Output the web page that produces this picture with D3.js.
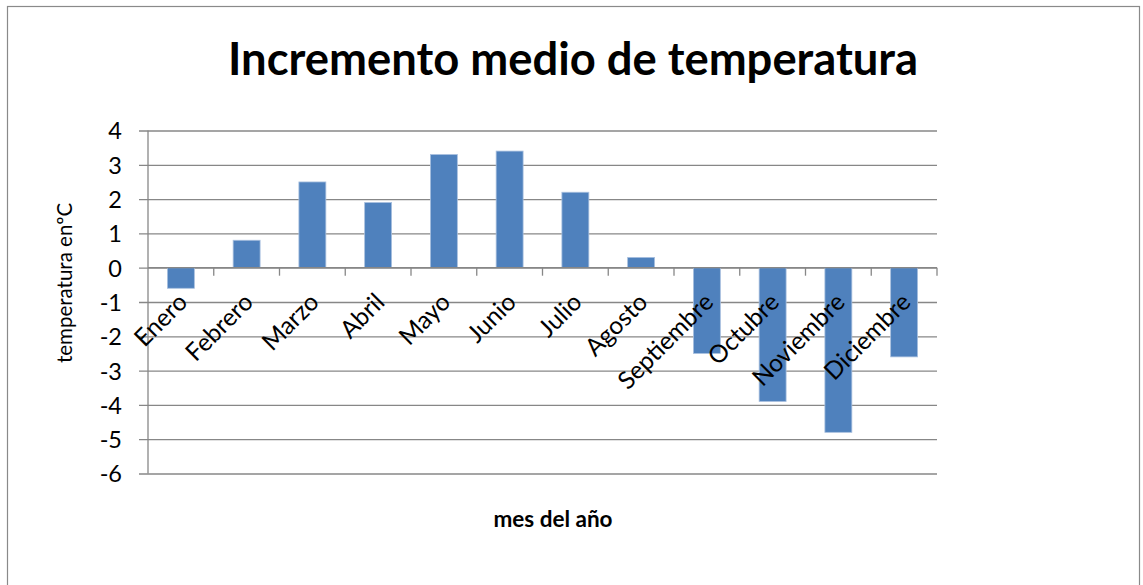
<!DOCTYPE html>
<html>
<head>
<meta charset="utf-8">
<script src="https://cdn.jsdelivr.net/npm/d3@7"></script>
<style>
  body { margin: 0; background: #fff; }
  svg { display: block; }
  text { font-family: Lato, "Open Sans", sans-serif; fill: #000; }
</style>
</head>
<body>
<svg id="chart" width="1143" height="585"></svg>
<script>
// data
const months = ["Enero", "Febrero", "Marzo", "Abril", "Mayo", "Junio",
                "Julio", "Agosto", "Septiembre", "Octubre", "Noviembre", "Diciembre"];
const increments = [-0.6, 0.8, 2.5, 1.9, 3.3, 3.4, 2.2, 0.3, -2.5, -3.9, -4.8, -2.6];
const tempTicks = [-6, -5, -4, -3, -2, -1, 0, 1, 2, 3, 4];
const chartTitle = "Incremento medio de temperatura";
const xTitle = "mes del año";
const yTitle = "temperatura enºC";

const svg = d3.select("#chart"),
    width = +svg.attr("width"),
    height = +svg.attr("height");

const plot = { left: 148, right: 937, top: 130.5, bottom: 473.5 };
const gridColor = "#878787";

// outer chart frame (bottom edge runs off the picture)
svg.append("rect")
    .attr("x", 7.5).attr("y", 6.5)
    .attr("width", 1132).attr("height", 620)
    .style("fill", "#fff")
    .style("stroke", "#8a8a8a")
    .style("stroke-width", 1.2);

const y = d3.scaleLinear().domain([-6, 4]).range([plot.bottom, plot.top]);

// category slots (for the tick marks) and bars inside them
const xCat = d3.scaleBand().domain(months).range([plot.left, plot.right]).padding(0);
const x = d3.scaleBand().domain(months).range([plot.left, plot.right])
    .paddingInner(0.59).paddingOuter(0.295);

// y axis with gridlines
const yAxis = d3.axisLeft(y)
    .tickValues(tempTicks)
    .tickSize(-(plot.right - plot.left))
    .tickPadding(26)
    .tickFormat(d => String(d)); // plain hyphen, like the original

const yg = svg.append("g")
    .attr("transform", `translate(${plot.left},0)`)
    .call(yAxis);
yg.select(".domain").remove();
yg.selectAll(".tick line")
    .attr("x1", -9)
    .style("stroke", gridColor)
    .style("stroke-width", 1.3);
yg.selectAll(".tick text")
    .attr("dy", "0.36em")
    .style("font-size", "23.5px")
    .style("font-family", "Lato, 'Open Sans', sans-serif");

svg.append("line")
    .attr("x1", plot.left).attr("x2", plot.left)
    .attr("y1", plot.top).attr("y2", plot.bottom)
    .style("stroke", gridColor)
    .style("stroke-width", 1.3);

// bars
svg.append("g")
    .selectAll("rect")
    .data(months)
    .enter().append("rect")
    .attr("x", d => x(d))
    .attr("width", x.bandwidth())
    .attr("y", (d, i) => y(Math.max(0, increments[i])))
    .attr("height", (d, i) => Math.abs(y(increments[i]) - y(0)))
    .style("fill", "#4f81bd")
    .style("stroke", "#a9c0df")
    .style("stroke-width", 0.8);

// category axis at zero
const y0 = y(0);
svg.append("line")
    .attr("x1", plot.left).attr("x2", plot.right)
    .attr("y1", y0).attr("y2", y0)
    .style("stroke", gridColor)
    .style("stroke-width", 1.3);

svg.append("g")
    .selectAll("line")
    .data(months.map(m => xCat(m) + xCat.bandwidth()))
    .enter().append("line")
    .attr("x1", d => d).attr("x2", d => d)
    .attr("y1", y0).attr("y2", y0 + 8)
    .style("stroke", gridColor)
    .style("stroke-width", 1.3);

// rotated month labels
svg.append("g")
    .selectAll("text")
    .data(months)
    .enter().append("text")
    .text(d => d)
    .attr("text-anchor", "end")
    .attr("transform", d => {
        const cx = xCat(d) + xCat.bandwidth() / 2 + 8;
        return `translate(${cx},${y0 + 36}) rotate(-45)`;
    })
    .style("font-size", "24.5px");

// titles
svg.append("text")
    .text(chartTitle)
    .attr("x", 573).attr("y", 75)
    .attr("text-anchor", "middle")
    .attr("textLength", 690)
    .attr("lengthAdjust", "spacingAndGlyphs")
    .style("font-size", "46px")
    .style("font-weight", "bold");

svg.append("text")
    .text(xTitle)
    .attr("x", 553).attr("y", 527)
    .attr("text-anchor", "middle")
    .style("font-size", "22.5px")
    .style("font-weight", "bold");

svg.append("text")
    .text(yTitle)
    .attr("text-anchor", "middle")
    .attr("transform", "translate(72,283) rotate(-90)")
    .style("font-size", "20.5px");
</script>
</body>
</html>
